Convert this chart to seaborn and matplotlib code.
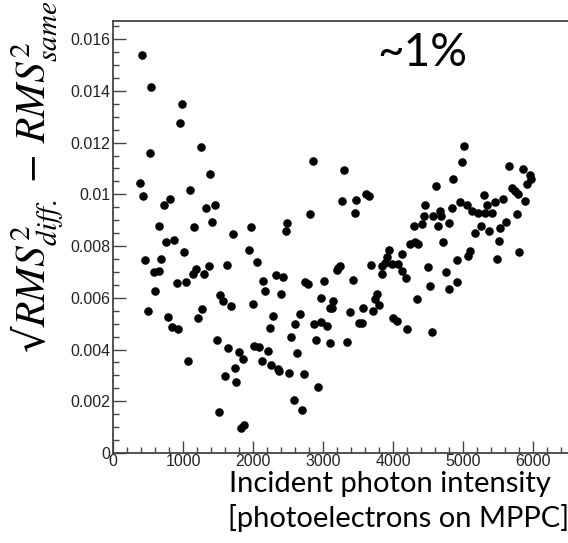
import numpy as np
import pandas as pd
import matplotlib
matplotlib.use('Agg')
import matplotlib.pyplot as plt
import seaborn as sns
from matplotlib.ticker import MultipleLocator

# Data: incident photon intensity vs. sqrt(RMS_diff^2 - RMS_same^2)
intensity = [
    410, 542, 986, 948, 1247, 524, 1381, 2848, 376, 424, 1100, 719, 805, 1329, 1447, 2814,
    3304, 3266, 3472, 3610, 3657, 3457, 657, 1147, 1415, 1971, 1710, 2481, 2467, 753, 871,
    452, 685, 1016, 1941, 2053, 576, 648, 1138, 1185, 1300, 1364, 1624, 2319, 2433, 2138,
    2163, 909, 1041, 603, 2400, 2742, 2790, 3014, 2971, 3100, 493, 1262, 1529, 1562, 1681,
    1991, 775, 1216, 833, 929, 2288, 2235, 2662, 2600, 2862, 2971, 3052, 2543, 2900, 3095,
    1476, 1642, 1796, 1851, 2009, 2081, 2206, 2123, 2254, 2361, 2372, 2517, 2731, 2633,
    1066, 1595, 1738, 1757, 2928, 2576, 2695, 1515, 1871, 1824,
    3910, 3948, 3885, 3838, 3981, 4075, 4123, 4186, 3838, 3685, 3218, 3195, 3243, 3424,
    3764, 3742, 3804, 3147, 3123, 3567, 3386, 3710, 3518, 3552, 3340, 4000, 4057, 4195,
    4559, 4120,
    5018, 4985, 4862, 4607, 5662, 5862, 5957, 5971, 5910, 5695, 5742, 5790, 5885, 5300,
    5567, 5457, 5347, 4957, 5061, 5124, 5218, 5314, 5409, 4838, 4457, 4671, 4443, 4576,
    4681, 5775, 4300, 4419, 4647, 4805, 5253, 5171, 5367, 5529, 5615, 5509, 5800, 5481,
    4719, 4243, 4361, 4314, 5100, 5076, 4919, 4504, 4757, 4909, 4792, 4529, 4343,
]
rms_diff = [
    0.01537, 0.01415, 0.01348, 0.01276, 0.01183, 0.0116, 0.0108, 0.01129, 0.01045, 0.00995,
    0.01017, 0.00957, 0.00982, 0.00946, 0.0096, 0.00924, 0.01094, 0.00974, 0.00979, 0.01002,
    0.00995, 0.00928, 0.00879, 0.00875, 0.00893, 0.00874, 0.00848, 0.00889, 0.00859, 0.00817,
    0.00824, 0.00746, 0.0075, 0.00776, 0.00786, 0.0074, 0.00698, 0.00704, 0.00693, 0.0071,
    0.00691, 0.00724, 0.00726, 0.00687, 0.00681, 0.00663, 0.00627, 0.00656, 0.0066, 0.00625,
    0.00616, 0.0066, 0.00655, 0.00665, 0.00601, 0.00562, 0.00548, 0.00558, 0.00611, 0.00586,
    0.00567, 0.00575, 0.00525, 0.0052, 0.00487, 0.00481, 0.00529, 0.00484, 0.00536, 0.005,
    0.005, 0.00506, 0.0049, 0.0045, 0.00435, 0.00427, 0.00436, 0.00404, 0.00391, 0.00365,
    0.00413, 0.00411, 0.00396, 0.00356, 0.00339, 0.00323, 0.00316, 0.00311, 0.00306, 0.00387,
    0.00355, 0.00298, 0.00329, 0.00275, 0.00256, 0.00203, 0.00167, 0.00159, 0.00109, 0.00096,
    0.00756, 0.00786, 0.00733, 0.00724, 0.0073, 0.0073, 0.00704, 0.00678, 0.00691, 0.00726,
    0.00717, 0.00708, 0.00724, 0.00669, 0.00613, 0.00597, 0.00574, 0.00588, 0.00562, 0.00562,
    0.00545, 0.00549, 0.00504, 0.00501, 0.0043, 0.00523, 0.00511, 0.00478, 0.00467, 0.00771,
    0.01188, 0.01125, 0.01061, 0.01032, 0.0111, 0.01099, 0.01073, 0.0106, 0.01041, 0.01024,
    0.01011, 0.01002, 0.00976, 0.00998, 0.00983, 0.0097, 0.00957, 0.00972, 0.00957, 0.00935,
    0.00928, 0.00928, 0.00928, 0.00946, 0.00957, 0.00937, 0.00918, 0.00915, 0.00915, 0.00924,
    0.00879, 0.00885, 0.00879, 0.00889, 0.00879, 0.00849, 0.00857, 0.00869, 0.00892, 0.00821,
    0.00778, 0.0075, 0.00814, 0.00808, 0.00808, 0.00814, 0.00782, 0.0076, 0.00746, 0.00719,
    0.00701, 0.00661, 0.00633, 0.00646, 0.00597,
]
y_ticks = [0, 0.002, 0.004, 0.006, 0.008, 0.01, 0.012, 0.014, 0.016]
y_tick_labels = ['0', '0.002', '0.004', '0.006', '0.008', '0.01', '0.012', '0.014', '0.016']
x_ticks = [0, 1000, 2000, 3000, 4000, 5000, 6000]

df = pd.DataFrame({'intensity': intensity, 'rms': rms_diff})

sns.set_style('ticks')
plt.rcParams['font.family'] = ['Liberation Sans', 'DejaVu Sans']
plt.rcParams['mathtext.fontset'] = 'stix'

fig = plt.figure(figsize=(5.68, 5.43), dpi=100)
ax = fig.add_axes([113.3 / 568, 90 / 543, 1 - 113.3 / 568, (453 - 21) / 543])

sns.scatterplot(data=df, x='intensity', y='rms', color='black', s=38,
                linewidth=0, marker='o', ax=ax, legend=False)

ax.set_xlim(0, 6500)
ax.set_ylim(0, 0.0167)
ax.set_xticks(x_ticks)
ax.set_xticklabels([str(t) for t in x_ticks])
ax.set_yticks(y_ticks)
ax.set_yticklabels(y_tick_labels)
ax.xaxis.set_minor_locator(MultipleLocator(200))
ax.yaxis.set_minor_locator(MultipleLocator(0.0005))

frame = '#444444'
for side in ['left', 'top', 'bottom']:
    ax.spines[side].set_color(frame)
    ax.spines[side].set_linewidth(1.3)
ax.spines['right'].set_visible(False)

ax.tick_params(axis='both', which='major', direction='in', length=9, width=1,
               color=frame, labelsize=11.5, labelcolor='#222222')
ax.tick_params(axis='both', which='minor', direction='in', length=4.5, width=1, color=frame)
ax.tick_params(axis='x', which='major', pad=1)
ax.tick_params(axis='y', which='major', pad=2)
ax.set_xlabel('')
ax.set_ylabel('')

# y label (big serif math) running up the left edge
fig.text(37 / 568, 0.999, '√' + r'$RMS^2_{diff.}\,-\,RMS^2_{same}$', rotation=90,
         ha='center', va='top', fontsize=30, color='black',
         family=['DejaVu Serif', 'DejaVu Sans'])

# annotation and x label
fig.text(377 / 568, 1 - 53 / 543, '~1%', fontsize=33, family=['Lato', 'DejaVu Sans'],
         ha='left', va='center', color='black')
fig.text(229 / 568, 1 - 484 / 543, 'Incident photon intensity', fontsize=21,
         family=['Lato', 'DejaVu Sans'], ha='left', va='center', color='black')
fig.text(228 / 568, 1 - 518 / 543, '[photoelectrons on MPPC]', fontsize=21,
         family=['Lato', 'DejaVu Sans'], ha='left', va='center', color='black')

fig.savefig('out.png', dpi=100)
